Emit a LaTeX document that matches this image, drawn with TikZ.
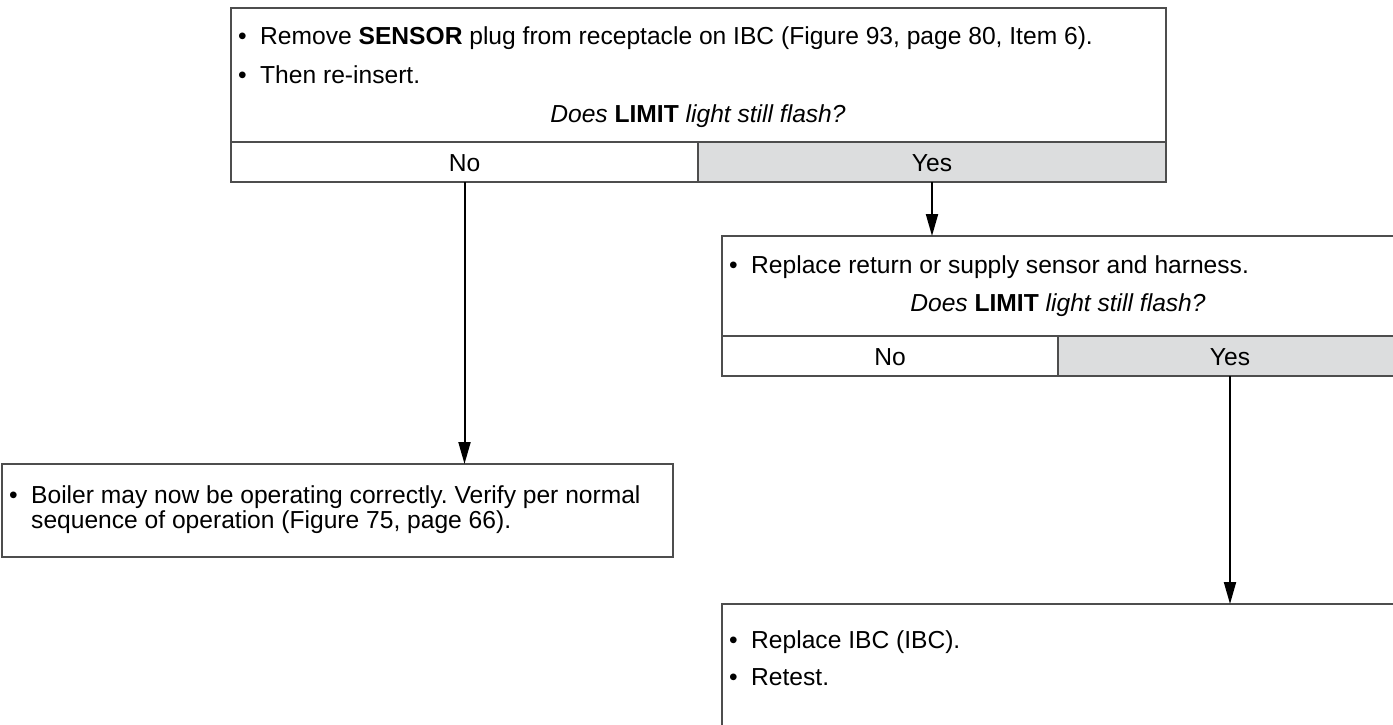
\documentclass[tikz,border=0pt]{standalone}
\usepackage{fontspec}
\setmainfont{Liberation Sans}
\usetikzlibrary{arrows.meta}
\frenchspacing

\definecolor{linegray}{HTML}{4D4D4D}
\definecolor{yesgray}{HTML}{DCDDDE}

% bullet with its hanging space
\newcommand{\bul}{\makebox[29pt][l]{\hspace{7pt}\textbullet}}

\begin{document}
\begin{tikzpicture}[x=1pt, y=-1pt, >={Triangle[length=22pt,width=12pt]},
    cell/.style={draw=linegray, line width=1.5pt, anchor=north west, inner sep=0pt, outer sep=0pt},
    yescell/.style={cell, fill=yesgray},
    txt/.style={anchor=base west, inner sep=0pt, font=\fontsize{24.6}{28}\selectfont},
    ctxt/.style={anchor=base, inner sep=0pt, font=\fontsize{24.6}{28}\selectfont},
    flow/.style={->, line width=2pt, black}]
    \useasboundingbox (0,0) rectangle (1393,725);
    \clip (0,0) rectangle (1393,725);

    % 1. first question
    \node[cell, minimum width=935pt, minimum height=134pt] (ask1) at (231,8) {};
    \node[cell, minimum width=467pt, minimum height=40pt] (no1) at (231,142) {};
    \node[yescell, minimum width=468pt, minimum height=40pt] (yes1) at (698,142) {};
    \node[txt] (ask1a) at (231,45) {\bul Remove \textbf{SENSOR} plug from receptacle on IBC (Figure 93, page 80, Item 6).};
    \node[txt] (ask1b) at (231,84) {\bul Then re-insert.};
    \node[ctxt] (ask1q) at (698,122) {\textit{Does} \textbf{LIMIT} \textit{light still flash?}};
    \node[ctxt] (no1t) at ([yshift=-9pt]no1.center) {No};
    \node[ctxt] (yes1t) at ([yshift=-9pt]yes1.center) {Yes};

    % 2. second question
    \node[cell, minimum width=680pt, minimum height=100pt] (ask2) at (722,236) {};
    \node[cell, minimum width=336pt, minimum height=40pt] (no2) at (722,336) {};
    \node[yescell, minimum width=344pt, minimum height=40pt] (yes2) at (1058,336) {};
    \node[txt] (ask2a) at (722,273) {\bul Replace return or supply sensor and harness.};
    \node[ctxt] (ask2q) at (1058,311) {\textit{Does} \textbf{LIMIT} \textit{light still flash?}};
    \node[ctxt] (no2t) at ([yshift=-9pt]no2.center) {No};
    \node[ctxt] (yes2t) at ([yshift=-9pt]yes2.center) {Yes};

    % 3. answers
    \node[cell, minimum width=671pt, minimum height=93pt] (ok) at (2,464) {};
    \node[txt] (oka) at (2,503) {\bul Boiler may now be operating correctly. Verify per normal};
    \node[txt] (okb) at (31,528) {sequence of operation (Figure 75, page 66).};
    \node[cell, minimum width=680pt, minimum height=140pt] (ibc) at (722,604) {};
    \node[txt] (ibca) at (722,648) {\bul Replace IBC (IBC).};
    \node[txt] (ibcb) at (722,685) {\bul Retest.};

    % 4. arrows
    \draw[flow] (no1.south) -- (no1.south |- ok.north);
    \draw[flow] (yes1.south) -- (yes1.south |- ask2.north);
    \draw[flow] (yes2.south) -- (yes2.south |- ibc.north);
\end{tikzpicture}
\end{document}
